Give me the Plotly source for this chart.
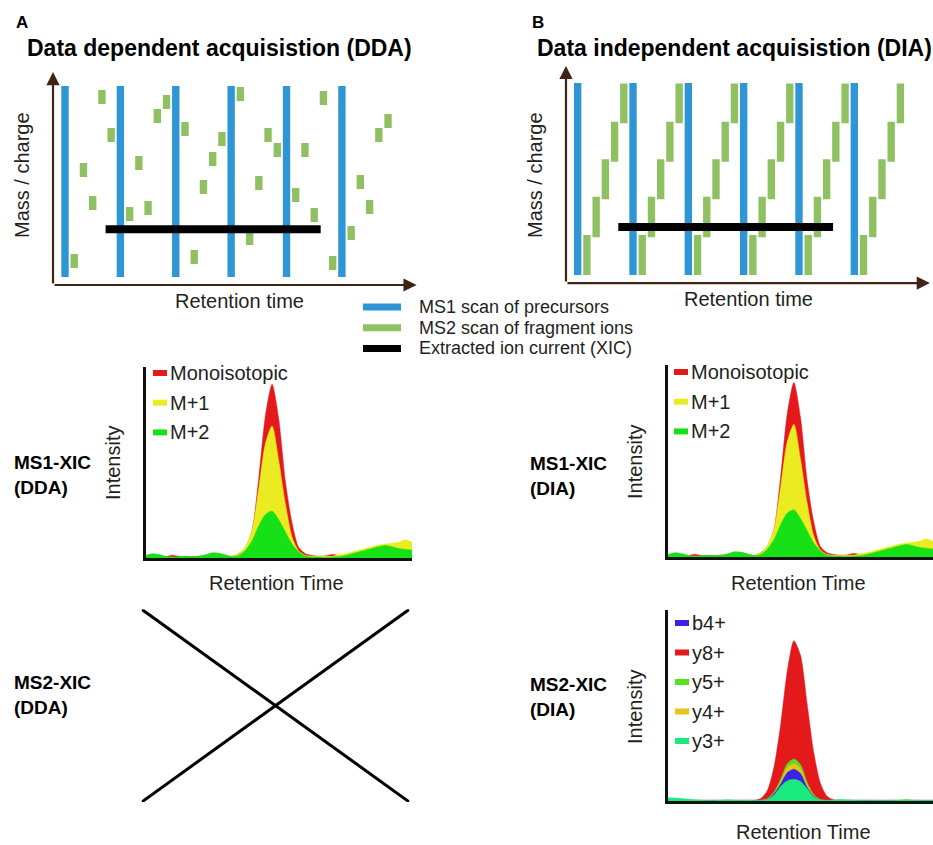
import plotly.graph_objects as go

W, H = 933, 845
FONT = "Liberation Sans, Arial, Helvetica, sans-serif"
TXT = "#231f20"
BROWN = "#3f2415"

# ---------------- data ----------------
# top schematics (time in scan slots, m/z in % of scanned range)
ms1_scan_times = [0, 6, 12, 18, 24, 30]
ms1_mz_range = [0, 100]
dda_ms2_times = [1, 2, 3, 4, 5, 7, 8, 9, 10, 11, 13, 14, 15, 16, 17,
                 19, 20, 21, 22, 23, 25, 26, 27, 28, 29, 31, 32, 33, 34, 35]
dda_ms2_mz = [8.4, 56, 38.7, 94.2, 74.3, 33, 59.7, 36.1, 84.3, 91.6,
              77.5, 10.5, 47.1, 61.8, 72.3, 95.8, 20.4, 49.2, 74.3, 66.5,
              42.9, 66.5, 32.5, 93.7, 7.3, 23, 49.7, 36.6, 74.3, 81.7]
dia_window_low = [0, 19.6, 39.4, 59, 79]
dia_window_high = [20.8, 40.8, 60.3, 79.8, 99.8]
xic_time = [4.4, 27.7]
xic_mz = [25, 25]

legend_labels = ["MS1 scan of precursors", "MS2 scan of fragment ions",
                 "Extracted ion current (XIC)"]

# extracted ion chromatograms
rt = [0, 2.5, 5, 7.5, 10, 12.5, 15, 17.5, 20, 22.5, 25, 27.5, 30, 32.5, 35,
      37.5, 40, 42.5, 45, 47.5, 50, 52.5, 55, 57.5, 60, 62.5, 65, 67.5, 70,
      72.5, 75, 77.5, 80, 82.5, 85, 87.5, 90, 92.5, 95, 97.5, 100]

ms1_names = ["Monoisotopic", "M+1", "M+2"]
ms1_mono = [1.0, 1.2, 1.0, 0.8, 1.6, 1.0, 0.8, 0.8, 1.0, 1.2,
            1.5, 1.5, 1.2, 1.0, 2.5, 6, 16, 46, 82, 100,
            80, 44, 20, 6, 2.5, 1.5, 1.0, 1.2, 2.0, 1.5,
            1.0, 1.5, 2.5, 3.5, 4.5, 5.5, 6.5, 7, 7.5, 8, 6]
ms1_m1 = [0.5, 0.5, 0.5, 0.5, 0.5, 0.5, 0.5, 0.5, 0.5, 0.5,
          1, 1, 1, 1, 2.5, 6.5, 16, 40, 66, 76,
          56, 31, 12, 4, 1.5, 1, 1, 1, 1, 2,
          2.5, 3.5, 4.5, 5.5, 6.5, 7.5, 8, 8.5, 9, 10.5, 9]
ms1_m2 = [1.5, 2.5, 2.0, 1.0, 0.3, 0.8, 1.0, 0.8, 1.0, 1.8,
          3.0, 2.8, 1.8, 0.8, 1.5, 4.5, 10, 18.5, 25, 27,
          22, 15, 8, 3.5, 1, 0.5, 0.5, 0.3, 0.5, 0.8,
          1.5, 2.5, 3.5, 4.5, 5.5, 6.5, 7.2, 6.5, 5.5, 5, 4.5]

ms2_legend = ["b4+", "y8+", "y5+", "y4+", "y3+"]
ms2_y8 = [0.5, 0.5, 0.5, 0.5, 0.5, 0.5, 0.5, 0.5, 0.5, 0.5,
          0.5, 0.5, 0.5, 0.5, 1.5, 6.5, 21, 47, 80, 99,
          90, 60, 30, 11, 3, 0.8, 0.5, 0.5, 0.5, 0.5,
          0.5, 0.5, 0.5, 0.5, 0.5, 0.5, 0.5, 0.5, 0.5, 0.5, 0.5]
ms2_y5 = [0.3, 0.3, 0.3, 0.3, 0.3, 0.3, 0.3, 0.3, 0.3, 0.3,
          0.3, 0.3, 0.3, 0.3, 0.3, 1.4, 5.5, 13.5, 23, 26,
          22.5, 11.5, 4, 0.8, 0.3, 0.3, 0.3, 0.3, 0.3, 0.3,
          0.3, 0.3, 0.3, 0.3, 0.3, 0.3, 0.8, 0.3, 0.3, 0.3, 0.3]
ms2_y4 = [0.3, 0.3, 0.3, 0.3, 0.3, 0.3, 0.3, 0.3, 0.3, 0.3,
          0.3, 0.3, 0.3, 0.3, 0.3, 1.2, 5, 12, 20.5, 23,
          20, 10, 3.5, 0.6, 0.3, 0.3, 0.3, 0.3, 0.3, 0.3,
          0.3, 0.3, 0.3, 0.3, 0.3, 0.3, 0.3, 0.3, 0.3, 0.3, 0.3]
ms2_b4 = [0.3, 0.3, 0.3, 0.3, 0.3, 0.3, 0.3, 0.3, 0.3, 0.3,
          0.3, 0.3, 0.3, 0.3, 0.3, 1, 4.5, 10.5, 17.5, 19.6,
          17, 8.5, 3, 0.5, 0.3, 0.3, 0.3, 0.3, 0.3, 0.3,
          0.3, 0.3, 0.3, 0.3, 0.3, 0.3, 0.3, 0.3, 0.3, 0.3, 0.3]
ms2_y3 = [2.0, 1.8, 1.5, 1.2, 0.8, 0.6, 0.5, 0.5, 0.6, 0.8,
          0.6, 0.5, 0.6, 0.5, 0.5, 1, 3.5, 9, 12.5, 13.4,
          12, 7.5, 2.5, 0.8, 0.5, 0.6, 1.0, 0.8, 0.6, 0.5,
          0.5, 0.5, 0.4, 0.5, 0.5, 0.6, 0.8, 0.6, 0.5, 0.4, 0.4]

cross_x = [0, 1]
cross_down = [1, 0]
cross_up = [0, 1]

# ---------------- styles ----------------
C_MS1 = "#2e96d5"
C_MS2 = "#8fc162"
C_XIC = "#000000"
ms1_colors = ["#e3191c", "#ebeb22", "#16e016"]
ms2_colors = {"b4+": "#3b22e6", "y8+": "#e3191c", "y5+": "#55e21c",
              "y4+": "#e9c21a", "y3+": "#18ea7e"}
bar_w = 0.8
dda_rect_h = 7.3


def px(x):
    return x / W


def py(y):
    return 1 - y / H


fig = go.Figure()

# ---------- top schematics ----------
ms1_heights = [ms1_mz_range[1] - ms1_mz_range[0]] * len(ms1_scan_times)
for ax_x, ax_y in (("x", "y"), ("x2", "y2")):
    fig.add_trace(go.Bar(x=ms1_scan_times, y=ms1_heights,
                         base=[ms1_mz_range[0]] * len(ms1_scan_times),
                         width=bar_w, marker=dict(color=C_MS1, line=dict(width=0)),
                         xaxis=ax_x, yaxis=ax_y, showlegend=False, hoverinfo="skip"))

# DDA MS2 scans
fig.add_trace(go.Bar(x=dda_ms2_times, y=[dda_rect_h] * len(dda_ms2_mz),
                     base=[m - dda_rect_h / 2 for m in dda_ms2_mz],
                     width=bar_w, marker=dict(color=C_MS2, line=dict(width=0)),
                     xaxis="x", yaxis="y", showlegend=False, hoverinfo="skip"))

# DIA MS2 windows (stepping after each MS1 scan)
dia_t, dia_base, dia_h = [], [], []
for t0 in ms1_scan_times:
    for k, (lo, hi) in enumerate(zip(dia_window_low, dia_window_high)):
        dia_t.append(t0 + k + 1)
        dia_base.append(lo)
        dia_h.append(hi - lo)
fig.add_trace(go.Bar(x=dia_t, y=dia_h, base=dia_base, width=bar_w,
                     marker=dict(color=C_MS2, line=dict(width=0)),
                     xaxis="x2", yaxis="y2", showlegend=False, hoverinfo="skip"))

for ax_x, ax_y in (("x", "y"), ("x2", "y2")):
    fig.add_trace(go.Scatter(x=xic_time, y=xic_mz, mode="lines",
                             line=dict(color=C_XIC, width=8),
                             xaxis=ax_x, yaxis=ax_y, showlegend=False, hoverinfo="skip"))

# ---------- MS1 XICs ----------
for ax_x, ax_y in (("x3", "y3"), ("x4", "y4")):
    for vals, col in zip([ms1_mono, ms1_m1, ms1_m2], ms1_colors):
        fig.add_trace(go.Scatter(x=rt, y=vals, mode="lines", fill="tozeroy",
                                 fillcolor=col,
                                 line=dict(color=col, width=0.5, shape="spline", smoothing=0.7),
                                 xaxis=ax_x, yaxis=ax_y, showlegend=False, hoverinfo="skip"))

# ---------- MS2 XIC (DIA) ----------
for name, vals in (("y8+", ms2_y8), ("y5+", ms2_y5), ("y4+", ms2_y4),
                   ("b4+", ms2_b4), ("y3+", ms2_y3)):
    col = ms2_colors[name]
    fig.add_trace(go.Scatter(x=rt, y=vals, mode="lines", fill="tozeroy", fillcolor=col,
                             line=dict(color=col, width=0.5, shape="spline", smoothing=0.7),
                             xaxis="x6", yaxis="y6", showlegend=False, hoverinfo="skip"))

# ---------- MS2 XIC (DDA): not available ----------
for yy in (cross_down, cross_up):
    fig.add_trace(go.Scatter(x=cross_x, y=yy, mode="lines",
                             line=dict(color="#000000", width=3),
                             xaxis="x5", yaxis="y5", showlegend=False, hoverinfo="skip"))

# ---------------- axes ----------------
hidden = dict(showgrid=False, zeroline=False, showticklabels=False, ticks="",
              showline=False, fixedrange=True)
framed = dict(showgrid=False, zeroline=False, showticklabels=False, ticks="",
              showline=True, linecolor="#111111", linewidth=3, fixedrange=True)

T_RANGE = [-1.5, 38.5]
MZ_RANGE = [-5, 110]
# pixel scale of the schematics
dda_t0, dia_t0, t_scale = 65.0, 577.7, 9.23
dda_mz0, dia_mz0 = 277.0, 275.0
mz_scale_dda, mz_scale_dia = 1.91, 1.92


def dom_x(t0, scale):
    return [px(t0 + T_RANGE[0] * scale), px(t0 + T_RANGE[1] * scale)]


def dom_y(m0, scale):
    return [py(m0 - MZ_RANGE[0] * scale), py(m0 - MZ_RANGE[1] * scale)]


layout_axes = dict(
    xaxis=dict(hidden, domain=dom_x(dda_t0, t_scale), range=T_RANGE, anchor="y"),
    yaxis=dict(hidden, domain=dom_y(dda_mz0, mz_scale_dda), range=MZ_RANGE, anchor="x"),
    xaxis2=dict(hidden, domain=dom_x(dia_t0, 9.22), range=T_RANGE, anchor="y2"),
    yaxis2=dict(hidden, domain=dom_y(dia_mz0, mz_scale_dia), range=MZ_RANGE, anchor="x2"),
    xaxis3=dict(framed, domain=[px(145.5), px(412)], range=[0, 100], anchor="y3"),
    yaxis3=dict(framed, domain=[py(558), py(367)], range=[0, 110], anchor="x3"),
    xaxis4=dict(framed, domain=[px(668), px(933)], range=[0, 100], anchor="y4"),
    yaxis4=dict(framed, domain=[py(557), py(365)], range=[0, 110], anchor="x4"),
    xaxis5=dict(hidden, domain=[px(141.7), px(409.3)], range=[0, 1], anchor="y5"),
    yaxis5=dict(hidden, domain=[py(802), py(609.3)], range=[0, 1], anchor="x5"),
    xaxis6=dict(framed, domain=[px(668), px(933)], range=[0, 100], anchor="y6"),
    yaxis6=dict(framed, domain=[py(801), py(610)], range=[0, 118], anchor="x6"),
)

annotations = []
shapes = []


def text(x, y, s, size=20, bold=False, anchor="center", angle=0, color=TXT):
    annotations.append(dict(
        x=px(x), y=py(y), xref="paper", yref="paper", text=f"<b>{s}</b>" if bold else s,
        showarrow=False, xanchor=anchor, yanchor="middle", textangle=angle,
        align="left" if anchor == "left" else "center",
        font=dict(family=FONT, size=size, color=color)))


# axis arrows of the schematics
for ax_x, ax_y, origin, x_tip, y_tip in (("x", "y", (-1.3, -4.2), 38.1, 107.3),
                                          ("x2", "y2", (-1.27, -4.2), 38.2, 108.9)):
    for tip in ((x_tip, origin[1]), (origin[0], y_tip)):
        annotations.append(dict(
            x=tip[0], y=tip[1], ax=origin[0], ay=origin[1], xref=ax_x, yref=ax_y,
            axref=ax_x, ayref=ax_y, text="", showarrow=True, arrowhead=2,
            arrowsize=1.2, arrowwidth=2.2, arrowcolor=BROWN, standoff=0))

# panel letters and titles
text(14, 22, "A", size=17, bold=True, anchor="left", color="#000")
text(530, 22, "B", size=17, bold=True, anchor="left", color="#000")
text(25, 48, "Data dependent acquisistion (DDA)", size=23, bold=True, anchor="left", color="#000")
text(535, 48, "Data independent acquisistion (DIA)", size=23, bold=True, anchor="left", color="#000")

# schematic axis titles
text(22, 175, "Mass / charge", angle=-90)
text(535, 175, "Mass / charge", angle=-90)
text(240, 301, "Retention time")
text(748, 299, "Retention time")

# middle legend
for i, (lab, col) in enumerate(zip(legend_labels, [C_MS1, C_MS2, C_XIC])):
    yy = 307 + i * 20.7
    shapes.append(dict(type="line", xref="paper", yref="paper", x0=px(363), x1=px(401),
                       y0=py(yy), y1=py(yy), line=dict(color=col, width=7)))
    text(417, yy, lab, size=18, anchor="left")

# row labels
text(12, 475, "MS1-XIC<br>(DDA)", size=19, bold=True, anchor="left", color="#000")
text(528, 476, "MS1-XIC<br>(DIA)", size=19, bold=True, anchor="left", color="#000")
text(12, 695, "MS2-XIC<br>(DDA)", size=19, bold=True, anchor="left", color="#000")
text(528, 697, "MS2-XIC<br>(DIA)", size=19, bold=True, anchor="left", color="#000")

# chart axis titles
text(113, 463, "Intensity", angle=-90)
text(635, 462, "Intensity", angle=-90)
text(635, 707, "Intensity", angle=-90)
text(276, 583, "Retention Time")
text(798, 583, "Retention Time")
text(803, 832, "Retention Time")

# MS1 chart legends
for sx, y0 in ((153, 373), (674, 372)):
    for i, (lab, col) in enumerate(zip(ms1_names, ms1_colors)):
        yy = y0 + i * 29.7
        shapes.append(dict(type="line", xref="paper", yref="paper", x0=px(sx), x1=px(sx + 14),
                           y0=py(yy), y1=py(yy), line=dict(color=col, width=6)))
        text(sx + 15, yy, lab, size=20, anchor="left")

# MS2 chart legend
for i, lab in enumerate(ms2_legend):
    yy = 623 + i * 29.5
    shapes.append(dict(type="line", xref="paper", yref="paper", x0=px(675), x1=px(689),
                       y0=py(yy), y1=py(yy), line=dict(color=ms2_colors[lab], width=6)))
    text(690, yy, lab, size=20, anchor="left")

fig.update_layout(
    width=W, height=H, autosize=False,
    margin=dict(l=0, r=0, t=0, b=0),
    paper_bgcolor="white", plot_bgcolor="rgba(0,0,0,0)",
    barmode="overlay", showlegend=False,
    annotations=annotations, shapes=shapes,
    font=dict(family=FONT, color=TXT),
    **layout_axes,
)

fig.write_html("out.html", config={"displayModeBar": False, "staticPlot": True},
               post_script="document.body.style.margin='0px';")
